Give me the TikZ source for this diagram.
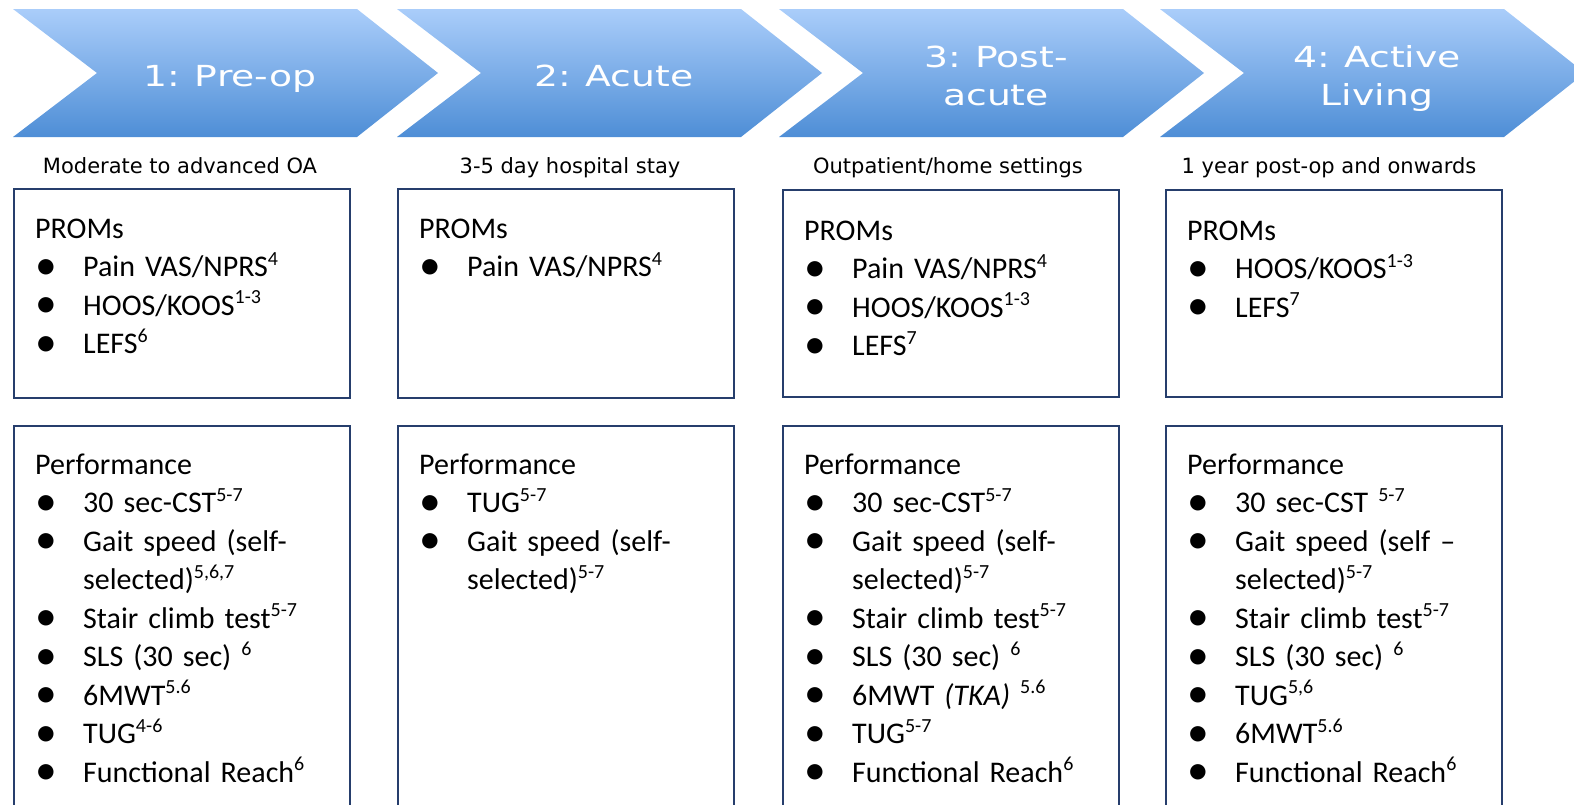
\documentclass[tikz,border=0pt]{standalone}
\usepackage{fontspec}
\setmainfont{Carlito}
\newfontfamily\subfont{DejaVu Sans}
\newfontfamily\chevfont[FakeStretch=1.3]{DejaVu Sans}
\definecolor{ctop}{RGB}{170,205,250}
\definecolor{cbot}{RGB}{78,142,214}
\definecolor{navy}{RGB}{38,62,108}
\newcommand\ssup[1]{\raisebox{0.38em}{\fontsize{20}{20}\selectfont #1}}
\newcommand\bul{\makebox[48pt][l]{\hspace{0pt}\raisebox{-2.5pt}{\scalebox{1.45}{\textbullet}}}}
\newcommand\ind{\hspace*{48pt}}
\tikzset{
  boxst/.style={draw=navy, line width=1.8pt, anchor=north west, inner sep=0pt, minimum width=336pt},
  txt/.style={anchor=base west, inner sep=0pt, text width=320pt, align=left, font=\fontsize{30}{38.5}\selectfont},
  sub/.style={anchor=base, inner sep=0pt, font=\subfont\fontsize{21}{25}\selectfont},
  chevtxt/.style={anchor=base, inner sep=0pt, text=white, align=center, text width=300pt, font=\chevfont\fontsize{29}{38}\selectfont},
}
\begin{document}
\begin{tikzpicture}[x=1pt,y=-1pt]
\useasboundingbox (0,0) rectangle (1574,804);
\clip (0,0) rectangle (1574,804);
% chevrons
\foreach \l in {13,397,779,1160}{
  \shade[top color=ctop, bottom color=cbot]
    (\l,9) -- (\l+344,9) -- (\l+425,73) -- (\l+344,137) -- (\l,137) -- (\l+84,73) -- cycle;
}
\node[chevtxt] (c1) at (230,86) {1: Pre-op};
\node[chevtxt] (c2) at (614,86) {2: Acute};
\node[chevtxt] (c3) at (996,67) {3: Post-\\acute};
\node[chevtxt] (c4) at (1377,67) {4: Active\\Living};
% subtitles
\node[sub] (s1) at (180,173) {Moderate to advanced OA};
\node[sub] (s2) at (570,173) {3-5 day hospital stay};
\node[sub] (s3) at (948,173) {Outpatient/home settings};
\node[sub] (s4) at (1329,173) {1 year post-op and onwards};
% PROMs boxes
\node[boxst, minimum height=209pt] (p1) at (13,188) {};
\node[boxst, minimum height=209pt] (p2) at (397,188) {};
\node[boxst, minimum height=207pt] (p3) at (782,189) {};
\node[boxst, minimum height=207pt] (p4) at (1165,189) {};
% performance boxes
\node[boxst, minimum height=420pt] (f1) at (13,425) {};
\node[boxst, minimum height=420pt] (f2) at (397,425) {};
\node[boxst, minimum height=420pt] (f3) at (782,425) {};
\node[boxst, minimum height=420pt] (f4) at (1165,425) {};
% PROMs text
\node[txt] (p1t) at (35,238) {PROMs\\
\bul Pain VAS/NPRS\ssup{4}\\
\bul HOOS/KOOS\ssup{1-3}\\
\bul LEFS\ssup{6}};
\node[txt] (p2t) at (419,238) {PROMs\\
\bul Pain VAS/NPRS\ssup{4}};
\node[txt] (p3t) at (804,240) {PROMs\\
\bul Pain VAS/NPRS\ssup{4}\\
\bul HOOS/KOOS\ssup{1-3}\\
\bul LEFS\ssup{7}};
\node[txt] (p4t) at (1187,240) {PROMs\\
\bul HOOS/KOOS\ssup{1-3}\\
\bul LEFS\ssup{7}};
% Performance text
\node[txt] (f1t) at (35,474) {Performance\\
\bul 30 sec-CST\ssup{5-7}\\
\bul Gait speed (self-\\
\ind selected)\ssup{5,6,7}\\
\bul Stair climb test\ssup{5-7}\\
\bul SLS (30 sec) \ssup{6}\\
\bul 6MWT\ssup{5.6}\\
\bul TUG\ssup{4-6}\\
\bul Functional Reach\ssup{6}};
\node[txt] (f2t) at (419,474) {Performance\\
\bul TUG\ssup{5-7}\\
\bul Gait speed (self-\\
\ind selected)\ssup{5-7}};
\node[txt] (f3t) at (804,474) {Performance\\
\bul 30 sec-CST\ssup{5-7}\\
\bul Gait speed (self-\\
\ind selected)\ssup{5-7}\\
\bul Stair climb test\ssup{5-7}\\
\bul SLS (30 sec) \ssup{6}\\
\bul 6MWT \textit{(TKA)} \ssup{5.6}\\
\bul TUG\ssup{5-7}\\
\bul Functional Reach\ssup{6}};
\node[txt] (f4t) at (1187,474) {Performance\\
\bul 30 sec-CST \ssup{5-7}\\
\bul Gait speed (self –\\
\ind selected)\ssup{5-7}\\
\bul Stair climb test\ssup{5-7}\\
\bul SLS (30 sec) \ssup{6}\\
\bul TUG\ssup{5,6}\\
\bul 6MWT\ssup{5.6}\\
\bul Functional Reach\ssup{6}};
\end{tikzpicture}
\end{document}
